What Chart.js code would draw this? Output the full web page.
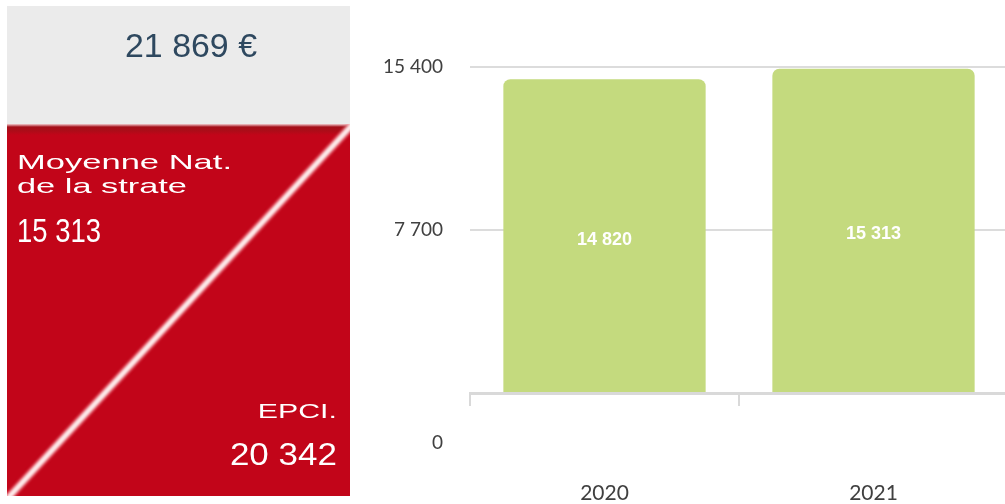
<!DOCTYPE html>
<html>
<head>
<meta charset="utf-8">
<script src="https://cdn.jsdelivr.net/npm/chart.js@4.4.1/dist/chart.umd.min.js"></script>
<style>
  html, body { margin: 0; padding: 0; background: #ffffff; }
  body { width: 1005px; height: 504px; position: relative; overflow: hidden; font-family: "Liberation Sans", Arial, sans-serif; }
  #greyBox { position: absolute; left: 7px; top: 6px; width: 343px; height: 118px; background: #ebebeb; }
  #redBox { position: absolute; left: 7px; top: 124px; width: 343px; height: 372px;
    background: linear-gradient(to bottom, #f2cdd0 0px, #a30e18 3px, #ad0c18 7px, #c20519 11px, #c20519 100%); }
  #diag { position: absolute; left: 0; top: 0; width: 360px; height: 504px; }
  .txt { position: absolute; white-space: nowrap; line-height: 1; display: inline-block; }
  #chartWrap { position: absolute; left: 360px; top: 0; width: 648px; height: 504px; }
</style>
</head>
<body>
<div id="greyBox"></div>
<div id="redBox"></div>
<svg id="diag" viewBox="0 0 360 504">
  <defs>
    <clipPath id="clipRed"><rect x="7" y="124" width="343" height="372"/></clipPath>
    <filter id="soft" x="-10%" y="-10%" width="120%" height="120%"><feGaussianBlur stdDeviation="0.9"/></filter>
  </defs>
  <g clip-path="url(#clipRed)">
    <line x1="354" y1="123" x2="8" y2="498" stroke="#f07a86" stroke-width="9" filter="url(#soft)" opacity="0.6"/>
    <line x1="354" y1="123" x2="8" y2="498" stroke="#fde9e9" stroke-width="5" filter="url(#soft)"/>
  </g>
</svg>
<div id="chartWrap"><canvas id="c"></canvas></div>
<script>
// ---- data ----
const categories = ['2020', '2021'];
const values = [14820, 15313];
const yTickValues = [0, 7700, 15400];
const panelTotal = 21869;
const panelStrataLabel = ['Moyenne Nat.', 'de la strate'];
const panelStrataValue = 15313;
const panelEpciLabel = 'EPCI.';
const panelEpciValue = 20342;

function fmt(v) { return String(v).replace(/\B(?=(\d{3})+(?!\d))/g, ' '); }

// ---- left panel text ----
function placeText(text, opts) {
  const el = document.createElement('span');
  el.className = 'txt';
  el.textContent = text;
  el.style.fontSize = opts.size + 'px';
  el.style.color = opts.color;
  el.style.top = (opts.baseline - 0.8465 * opts.size) + 'px';
  document.body.appendChild(el);
  const w = el.getBoundingClientRect().width;
  const s = opts.width / w;
  if (opts.right !== undefined) {
    el.style.left = (opts.right - w) + 'px';
    el.style.transformOrigin = 'right center';
  } else {
    el.style.left = opts.left + 'px';
    el.style.transformOrigin = 'left center';
  }
  el.style.transform = 'scaleX(' + s + ')';
}
placeText(fmt(panelTotal) + ' €', { left: 125, width: 132, baseline: 57, size: 34, color: '#2e485f' });
placeText(panelStrataLabel[0], { left: 17, width: 215, baseline: 169, size: 21, color: '#ffffff' });
placeText(panelStrataLabel[1], { left: 17, width: 170, baseline: 193, size: 21, color: '#ffffff' });
placeText(fmt(panelStrataValue), { left: 17, width: 84, baseline: 242, size: 33, color: '#ffffff' });
placeText(panelEpciLabel, { right: 337, width: 79, baseline: 418, size: 21, color: '#ffffff' });
placeText(fmt(panelEpciValue), { right: 337, width: 107, baseline: 465, size: 32, color: '#ffffff' });

// ---- chart ----
const barLabels = {
  id: 'barLabels',
  afterDatasetsDraw(chart) {
    const ctx = chart.ctx;
    const meta = chart.getDatasetMeta(0);
    ctx.save();
    ctx.fillStyle = '#ffffff';
    ctx.font = 'bold 18px "Liberation Sans", Arial, sans-serif';
    ctx.textAlign = 'center';
    ctx.textBaseline = 'middle';
    meta.data.forEach((bar, i) => {
      const v = chart.data.datasets[0].data[i];
      ctx.fillText(fmt(v), bar.x, (bar.y + bar.base) / 2 + 4);
    });
    ctx.restore();
  }
};

const tickFamily = 'Lato, "Open Sans", sans-serif';

new Chart(document.getElementById('c'), {
  type: 'bar',
  data: {
    labels: categories,
    datasets: [{
      data: values,
      backgroundColor: '#c4da7e',
      borderWidth: 0,
      borderRadius: 7,
      barPercentage: 0.752,
      categoryPercentage: 1.0
    }]
  },
  options: {
    responsive: true,
    maintainAspectRatio: false,
    animation: false,
    layout: { padding: { top: 33, right: 0, bottom: 0, left: 0 } },
    plugins: { legend: { display: false }, tooltip: { enabled: false } },
    scales: {
      x: {
        grid: { display: true, drawOnChartArea: false, drawTicks: true, tickLength: 13, color: '#d9d9d9', lineWidth: 2, offset: true },
        border: { display: true, color: '#d9d9d9', width: 3 },
        ticks: { color: '#404040', font: { family: tickFamily, size: 21 }, padding: 75, maxRotation: 0 },
        afterFit(scale) { scale.height = 111; }
      },
      y: {
        min: 0,
        max: 17000,
        grid: { color: '#dcdcdc', lineWidth: 2, drawTicks: false },
        border: { display: false },
        afterBuildTicks(scale) { scale.ticks = yTickValues.map(v => ({ value: v })); },
        afterFit(scale) { scale.width = 110; scale.paddingTop = 0; scale.paddingBottom = 0; },
        ticks: {
          autoSkip: false,
          color: '#404040',
          padding: 27,
          font: (ctx) => (ctx.tick && ctx.tick.value === 0)
            ? { family: tickFamily, size: 19, lineHeight: '100px' }
            : { family: tickFamily, size: 19 },
          callback: (v) => v === 0 ? ['', '0'] : fmt(v)
        }
      }
    }
  },
  plugins: [barLabels]
});
</script>
</body>
</html>
